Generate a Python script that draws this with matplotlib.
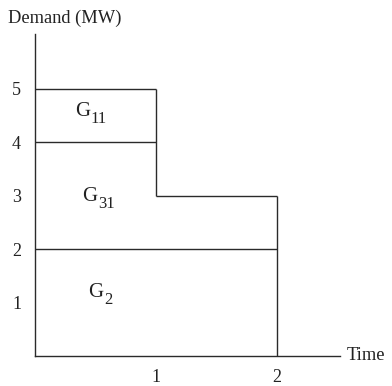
import matplotlib
matplotlib.use("Agg")
import matplotlib.pyplot as plt

# Demand blocks (MW) over time
h_levels = [5, 4, 3, 2]
h_start = [0, 0, 1, 0]
h_end = [1, 1, 2, 2]
v_times = [1, 2]
v_low = [3, 0]
v_high = [5, 3]
gen_names = ["G", "G", "G"]
gen_subs = ["11", "31", "2"]
gen_x = [0.33, 0.39, 0.44]
gen_y = [4.49, 2.90, 1.10]
x_ticks = [1, 2]
y_ticks = [1, 2, 3, 4, 5]

plt.rcParams["font.family"] = ["Liberation Serif", "DejaVu Serif"]

fig = plt.figure(figsize=(3.92, 3.86), dpi=100)
ax = fig.add_axes([35 / 392, 30 / 386, 305 / 392, 322 / 386])
ax.set_xlim(0, 2.52)
ax.set_ylim(0, 6.02)

col = "#2a2a2a"
lw = 1.0
ax.hlines(h_levels, h_start, h_end, color=col, lw=lw)
ax.vlines(v_times, v_low, v_high, color=col, lw=lw)

for name, sub, x, y in zip(gen_names, gen_subs, gen_x, gen_y):
    g = ax.text(x, y, name, fontsize=15, ha="left", va="baseline", color="#222")
    # xy=(1, 0) is the bottom of the text box (below the baseline by the descent)
    ax.annotate(sub, xy=(1, 0), xycoords=g, xytext=(0.5, -1.5), textcoords="offset points",
                fontsize=12, ha="left", va="baseline", color="#222")

for s in ["top", "right"]:
    ax.spines[s].set_visible(False)
for s in ["left", "bottom"]:
    ax.spines[s].set_color(col)
    ax.spines[s].set_linewidth(lw)

ax.set_xticks(x_ticks)
ax.set_yticks(y_ticks)
ax.tick_params(length=0, labelsize=13, colors="#222")
ax.tick_params(axis="x", pad=9)
ax.tick_params(axis="y", pad=10)

fig.text(8 / 392, 1 - 18 / 386, "Demand (MW)", fontsize=13.3, va="center", ha="left", color="#222")
fig.text(347 / 392, 1 - 356 / 386, "Time", fontsize=13.3, va="center", ha="left", color="#222")

fig.savefig("out.png", dpi=100)
